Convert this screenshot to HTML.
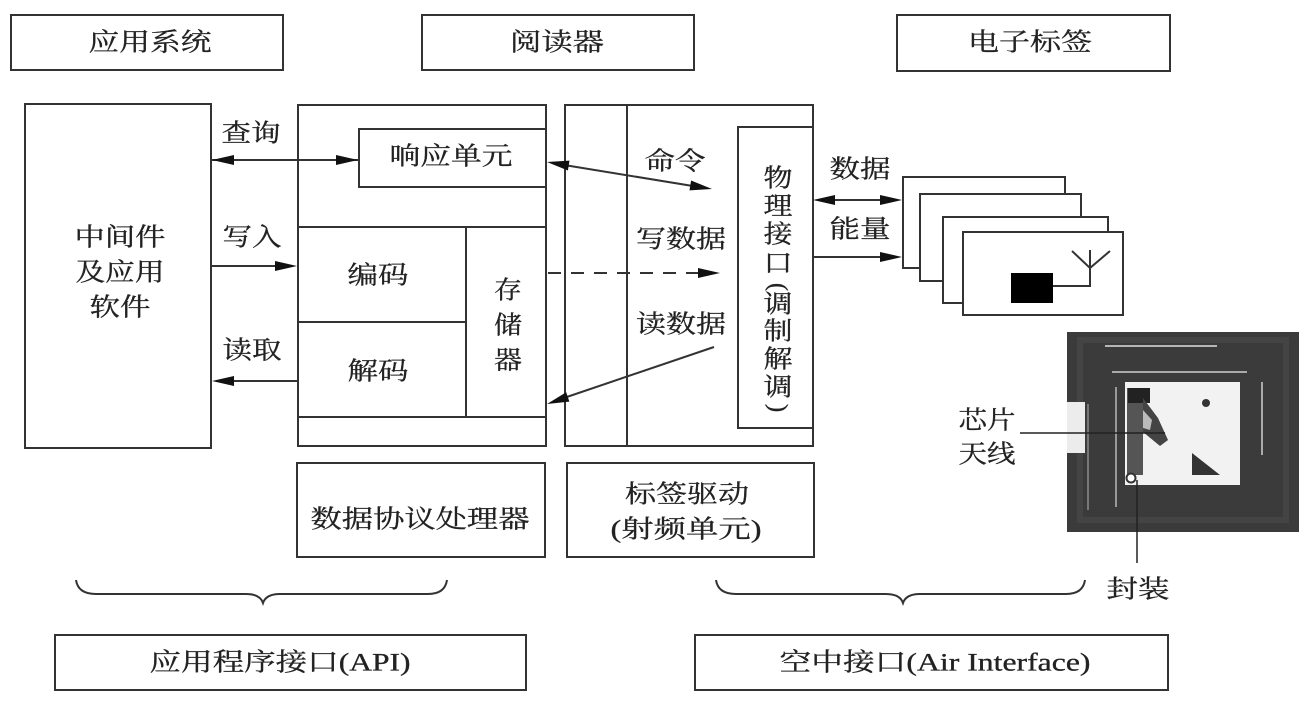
<!DOCTYPE html>
<html><head><meta charset="utf-8"><style>
html,body{margin:0;padding:0;background:#fff;}
svg{display:block;}
text{font-family:"Liberation Serif","Noto Serif CJK SC",serif;fill:#222;font-size:25px;stroke:#222;stroke-width:0.3px;}
</style></head><body>
<svg width="1311" height="716" viewBox="0 0 1311 716" xmlns="http://www.w3.org/2000/svg">
<rect width="1311" height="716" fill="#fff"/>
<g fill="none" stroke="#333" stroke-width="2">
<rect x="11" y="15" width="272" height="55"/>
<rect x="422" y="15" width="272" height="55"/>
<rect x="897" y="15" width="273" height="56"/>
<rect x="25" y="104" width="186" height="344"/>
<rect x="298" y="105" width="248" height="341"/>
<rect x="359" y="129" width="187" height="58"/>
<line x1="298" y1="227" x2="546" y2="227"/>
<line x1="298" y1="322" x2="466" y2="322"/>
<line x1="298" y1="417" x2="546" y2="417"/>
<line x1="466" y1="227" x2="466" y2="417"/>
<rect x="565" y="105" width="248" height="341"/>
<line x1="627" y1="105" x2="627" y2="446"/>
<rect x="738" y="127" width="75" height="301"/>
<rect x="297" y="463" width="248" height="94"/>
<rect x="567" y="463" width="247" height="94"/>
<rect x="55" y="635" width="471" height="55"/>
<rect x="695" y="635" width="473" height="55"/>
<path d="M76,580 Q78,594 96,594 L246,594 Q260,594 263,603 Q266,594 280,594 L428,594 Q445,594 447,580"/>
<path d="M716,580 Q718,594 736,594 L886,594 Q900,594 903,603 Q906,594 920,594 L1066,594 Q1083,594 1085,580"/>
<line x1="212" y1="160" x2="358" y2="160"/>
<line x1="211" y1="266" x2="290" y2="266"/>
<line x1="220" y1="381" x2="298" y2="381"/>
<line x1="555" y1="163.5" x2="705" y2="188"/>
<line x1="548" y1="273" x2="704" y2="273" stroke-dasharray="13,10"/>
<line x1="714" y1="347" x2="555" y2="401"/>
<line x1="820" y1="200" x2="895" y2="200"/>
<line x1="813" y1="257" x2="895" y2="257"/>
</g>
<g fill="#111" stroke="none">
<polygon points="212,160 234,155 234,165"/>
<polygon points="358,160 336,155 336,165"/>
<polygon points="297,266 275,261 275,271"/>
<polygon points="212,381 234,376 234,386"/>
<polygon points="547,162 567.9,170.5 569.5,160.6"/>
<polygon points="712,189 689.5,190.4 691.1,180.5"/>
<polygon points="720,273 698,268 698,278"/>
<polygon points="547,404 569.4,401.6 566.2,392.2"/>
<polygon points="813,200 835,195 835,205"/>
<polygon points="902,200 880,195 880,205"/>
<polygon points="902,257 880,252 880,262"/>
</g>
<g fill="#fff" stroke="#333" stroke-width="2">
<rect x="903" y="177" width="162" height="91"/>
<rect x="920" y="194" width="161" height="87"/>
<rect x="943" y="217" width="165" height="86"/>
<rect x="963" y="232" width="160" height="83"/>
</g>
<rect x="1011" y="273" width="42" height="30" fill="#000"/>
<path d="M1053,286 H1090 V250 M1090,268 L1072,251 M1090,268 L1110,251" fill="none" stroke="#333" stroke-width="2"/>
<rect x="1067" y="332" width="232" height="200" fill="#3b3b3b"/>
<rect x="1080" y="340" width="206" height="180" fill="none" stroke="#444" stroke-width="6"/>
<rect x="1067" y="402" width="18" height="51" fill="#ececec"/>
<line x1="1105" y1="346" x2="1217" y2="346" stroke="#b5b5b5" stroke-width="2"/>
<line x1="1112" y1="372" x2="1247" y2="372" stroke="#aaa" stroke-width="2"/>
<line x1="1262" y1="382" x2="1262" y2="455" stroke="#aaa" stroke-width="2"/>
<line x1="1116" y1="387" x2="1116" y2="507" stroke="#999" stroke-width="2"/>
<line x1="1088" y1="404" x2="1088" y2="510" stroke="#777" stroke-width="2"/>
<rect x="1125" y="382" width="115" height="103" fill="#f2f2f2"/>
<rect x="1127" y="388" width="16" height="87" fill="#555"/>
<rect x="1128" y="388" width="22" height="15" fill="#222"/>
<polygon points="1143,398 1158,418 1168,440 1160,446 1143,432" fill="#444"/>
<polygon points="1143,410 1152,420 1150,430 1143,428" fill="#bbb"/>
<circle cx="1206" cy="403" r="4" fill="#333"/>
<polygon points="1192,453 1192,475 1220,475" fill="#333"/>
<circle cx="1131" cy="478" r="4.5" fill="#fff" stroke="#333" stroke-width="2"/>
<line x1="1020" y1="433" x2="1165" y2="433" stroke="#222" stroke-width="1.5"/>
<line x1="1137" y1="480" x2="1137" y2="563" stroke="#222" stroke-width="1.5"/>
<g dominant-baseline="central" text-anchor="middle">
<text x="150" y="43" textLength="123" lengthAdjust="spacingAndGlyphs">应用系统</text>
<text x="557" y="43" textLength="94" lengthAdjust="spacingAndGlyphs">阅读器</text>
<text x="1030" y="43" textLength="124" lengthAdjust="spacingAndGlyphs">电子标签</text>
<text x="251" y="134" textLength="59" lengthAdjust="spacingAndGlyphs">查询</text>
<text x="252" y="238" textLength="59" lengthAdjust="spacingAndGlyphs">写入</text>
<text x="252" y="351" textLength="59" lengthAdjust="spacingAndGlyphs">读取</text>
<text x="120" y="238" textLength="91" lengthAdjust="spacingAndGlyphs">中间件</text>
<text x="120" y="273" textLength="89" lengthAdjust="spacingAndGlyphs">及应用</text>
<text x="120" y="308" textLength="61" lengthAdjust="spacingAndGlyphs">软件</text>
<text x="451" y="157" textLength="123" lengthAdjust="spacingAndGlyphs">响应单元</text>
<text x="378" y="276" textLength="61" lengthAdjust="spacingAndGlyphs">编码</text>
<text x="378" y="372" textLength="61" lengthAdjust="spacingAndGlyphs">解码</text>
<text x="508" y="291" font-size="26" textLength="28" lengthAdjust="spacingAndGlyphs">存</text>
<text x="508" y="326" font-size="26" textLength="28" lengthAdjust="spacingAndGlyphs">储</text>
<text x="508" y="361" font-size="26" textLength="28" lengthAdjust="spacingAndGlyphs">器</text>
<text x="675" y="162" textLength="61" lengthAdjust="spacingAndGlyphs">命令</text>
<text x="681" y="240" textLength="90" lengthAdjust="spacingAndGlyphs">写数据</text>
<text x="681" y="325" textLength="90" lengthAdjust="spacingAndGlyphs">读数据</text>
<text x="778" y="179" font-size="26" textLength="29" lengthAdjust="spacingAndGlyphs">物</text>
<text x="778" y="207" font-size="26" textLength="29" lengthAdjust="spacingAndGlyphs">理</text>
<text x="778" y="235" font-size="26" textLength="29" lengthAdjust="spacingAndGlyphs">接</text>
<text x="778" y="264" font-size="26" textLength="29" lengthAdjust="spacingAndGlyphs">口</text>
<text x="778" y="287" transform="rotate(90 778 287)">(</text>
<text x="778" y="305" font-size="26" textLength="29" lengthAdjust="spacingAndGlyphs">调</text>
<text x="778" y="332" font-size="26" textLength="29" lengthAdjust="spacingAndGlyphs">制</text>
<text x="778" y="360" font-size="26" textLength="29" lengthAdjust="spacingAndGlyphs">解</text>
<text x="778" y="388" font-size="26" textLength="29" lengthAdjust="spacingAndGlyphs">调</text>
<text x="778" y="408" transform="rotate(90 778 408)">)</text>
<text x="860" y="170" textLength="61" lengthAdjust="spacingAndGlyphs">数据</text>
<text x="860" y="230" textLength="61" lengthAdjust="spacingAndGlyphs">能量</text>
<text x="420" y="520" textLength="219" lengthAdjust="spacingAndGlyphs">数据协议处理器</text>
<text x="687" y="495" textLength="124" lengthAdjust="spacingAndGlyphs">标签驱动</text>
<text x="686" y="530" textLength="151" lengthAdjust="spacingAndGlyphs">(射频单元)</text>
<text x="280" y="663" textLength="261" lengthAdjust="spacingAndGlyphs">应用程序接口(API)</text>
<text x="935" y="663" textLength="311" lengthAdjust="spacingAndGlyphs">空中接口(Air Interface)</text>
<text x="987" y="421" textLength="57" lengthAdjust="spacingAndGlyphs">芯片</text>
<text x="987" y="455" textLength="57" lengthAdjust="spacingAndGlyphs">天线</text>
<text x="1138" y="590" textLength="63" lengthAdjust="spacingAndGlyphs">封装</text>
</g>
</svg>
</body></html>
